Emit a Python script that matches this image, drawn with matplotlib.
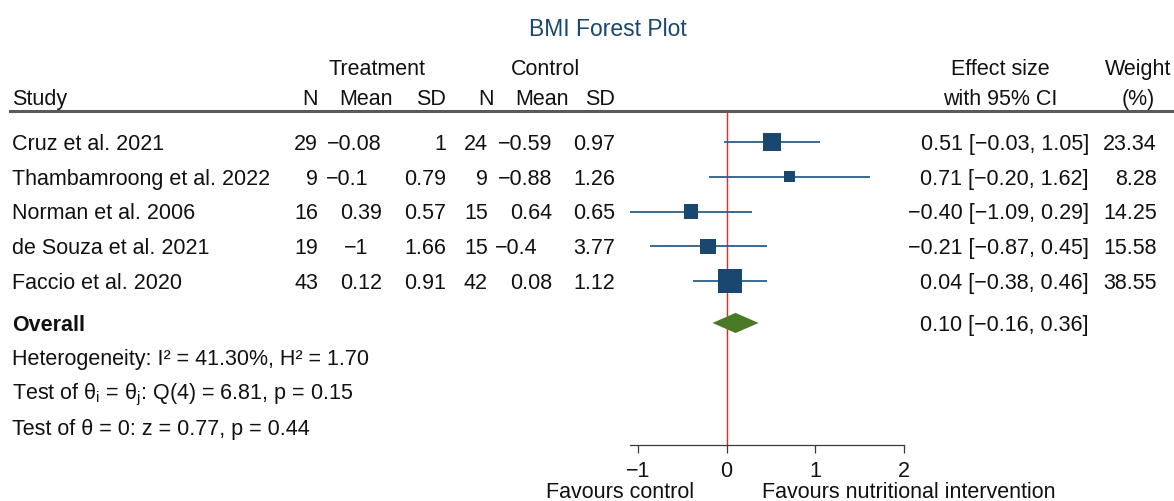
import matplotlib
matplotlib.use("Agg")
import matplotlib.pyplot as plt
import matplotlib.transforms as mtransforms
from matplotlib.lines import Line2D
import numpy as np

# ---------------- data ----------------
studies = ["Cruz et al. 2021", "Thambamroong et al. 2022", "Norman et al. 2006",
           "de Souza et al. 2021", "Faccio et al. 2020"]
n_treat = [29, 9, 16, 19, 43]
mean_treat = [-0.08, -0.1, 0.39, -1, 0.12]
sd_treat = [1, 0.79, 0.57, 1.66, 0.91]
n_ctrl = [24, 9, 15, 15, 42]
mean_ctrl = [-0.59, -0.88, 0.64, -0.4, 0.08]
sd_ctrl = [0.97, 1.26, 0.65, 3.77, 1.12]
effect = [0.51, 0.71, -0.40, -0.21, 0.04]
ci_low = [-0.03, -0.20, -1.09, -0.87, -0.38]
ci_high = [1.05, 1.62, 0.29, 0.45, 0.46]
weights = [23.34, 8.28, 14.25, 15.58, 38.55]
overall_effect = 0.10
overall_low = -0.16
overall_high = 0.36
x_ticks = [-1, 0, 1, 2]
het_text = "Heterogeneity: I\u00b2 = 41.30%, H\u00b2 = 1.70"
q_text = r"Test of θ$_{\mathrm{i}}$ = θ$_{\mathrm{j}}$: Q(4) = 6.81, p = 0.15"
z_text = "Test of θ = 0: z = 0.77, p = 0.44"

# ---------------- style ----------------
plt.rcParams["font.family"] = ["Liberation Sans", "DejaVu Sans"]
plt.rcParams["mathtext.fontset"] = "custom"
plt.rcParams["mathtext.rm"] = "Liberation Sans"
plt.rcParams["mathtext.it"] = "Liberation Sans"
plt.rcParams["mathtext.bf"] = "Liberation Sans:bold"

W, H = 1174, 501
FS = 15.5
TXT = "#111111"
NAVY = "#1a476f"

def fmt(v):
    return f"{v:g}".replace("-", "\u2212")

def fmt2(v):
    return f"{v:.2f}".replace("-", "\u2212")

def ndec(s):
    return len(s.split(".")[1]) if "." in s else 0

fig = plt.figure(figsize=(W / 100, H / 100), dpi=100)
ax = fig.add_axes([630 / W, (H - 445) / H, (904 - 630) / W, (445 - 111) / H])
ax.set_xlim(-1.09, 2.0)
ax.set_ylim(8.707, -0.891)
ax.patch.set_visible(False)
for s in ["top", "right", "left"]:
    ax.spines[s].set_visible(False)
ax.spines["bottom"].set_color("#3a3a3a")
ax.spines["bottom"].set_linewidth(0.9)
ax.set_yticks([])
ax.set_xticks(x_ticks)
ax.tick_params(axis="x", direction="out", length=5.8, width=0.9, color="#3a3a3a",
               pad=6.0, labelsize=FS, labelcolor=TXT)

rows = np.arange(len(studies))
ax.axvline(0, color="#ff1f1f", lw=1.0, zorder=1)
ax.hlines(rows, ci_low, ci_high, color="#2b5f8a", lw=1.3, zorder=2)
sizes = [(0.72 * 3.87) ** 2 * w for w in weights]
ax.scatter(effect, rows, s=sizes, marker="s", color=NAVY, linewidths=0, zorder=3)

overall_row = 5.2
dh = 0.29
ax.fill([overall_low, overall_effect, overall_high, overall_effect],
        [overall_row, overall_row - dh, overall_row, overall_row + dh],
        color="#4a7a28", lw=0, zorder=3)

# text transform: x in figure fraction, y in row units
T = mtransforms.blended_transform_factory(fig.transFigure, ax.transData)
half_cap = 0.716 * FS / 2
Tb = mtransforms.offset_copy(T, fig=fig, x=0, y=-half_cap, units="points")

def put(px, r, s, ha="left", dx_px=0, **kw):
    tr = Tb if dx_px == 0 else mtransforms.offset_copy(Tb, fig=fig, x=dx_px * 0.72, y=0, units="points")
    kw.setdefault("fontsize", FS)
    kw.setdefault("color", TXT)
    ax.text(px / W, r, s, transform=tr, ha=ha, va="baseline", clip_on=False, **kw)

# title
Tt = mtransforms.offset_copy(T, fig=fig, x=0, y=-0.716 * 16.5 / 2, units="points")
ax.text(608 / W, -3.276, "BMI Forest Plot", transform=Tt, ha="center", va="baseline",
        fontsize=16.5, color=NAVY, clip_on=False)

# headers
r1, r2 = -2.155, -1.293
put(377, r1, "Treatment", ha="center")
put(545, r1, "Control", ha="center")
put(1000, r1, "Effect size", ha="center")
put(1138, r1, "Weight", ha="center")
put(12, r2, "Study")
head_edges = {"nt": 318, "mt": 393, "st": 446, "nc": 494, "mc": 569, "sc": 615}
data_edges = {"nt": 318, "mt": 382, "st": 446, "nc": 488, "mc": 552, "sc": 615}
put(head_edges["nt"], r2, "N", ha="right")
put(head_edges["mt"], r2, "Mean", ha="right")
put(head_edges["st"], r2, "SD", ha="right")
put(head_edges["nc"], r2, "N", ha="right")
put(head_edges["mc"], r2, "Mean", ha="right")
put(head_edges["sc"], r2, "SD", ha="right")
put(1000, r2, "with 95% CI", ha="center")
put(1138, r2, "(%)", ha="center")

# separator line
fig.add_artist(Line2D([10 / W, 1172 / W], [(H - 111) / H] * 2, transform=fig.transFigure,
                      color="#5a5a5a", lw=2.2))

# study rows
for i, name in enumerate(studies):
    put(12, i, name)
    put(data_edges["nt"], i, fmt(n_treat[i]), ha="right")
    s = fmt(mean_treat[i])
    put(data_edges["mt"], i, s, ha="right", dx_px=0 if ndec(s) == 2 else -14)
    put(data_edges["st"], i, fmt(sd_treat[i]), ha="right")
    put(data_edges["nc"], i, fmt(n_ctrl[i]), ha="right")
    s = fmt(mean_ctrl[i])
    put(data_edges["mc"], i, s, ha="right", dx_px=0 if ndec(s) == 2 else -14)
    put(data_edges["sc"], i, fmt(sd_ctrl[i]), ha="right")
    put(1089, i, f"{fmt2(effect[i])} [{fmt2(ci_low[i])}, {fmt2(ci_high[i])}]", ha="right")
    put(1157, i, f"{weights[i]:.2f}", ha="right")

put(12, overall_row, "Overall", fontweight="bold")
put(1089, overall_row, f"{fmt2(overall_effect)} [{fmt2(overall_low)}, {fmt2(overall_high)}]", ha="right")
put(12, 6.18, het_text)
put(12, 7.18, q_text)
put(12, 8.19, z_text)

# favours labels
yb = (H - (490 + 0.716 * FS / 2 / 0.72)) / H
fig.text(694 / W, yb, "Favours control", ha="right", va="baseline", fontsize=FS, color=TXT)
fig.text(762 / W, yb, "Favours nutritional intervention", ha="left", va="baseline", fontsize=FS, color=TXT)

fig.savefig("out.png", dpi=100)
